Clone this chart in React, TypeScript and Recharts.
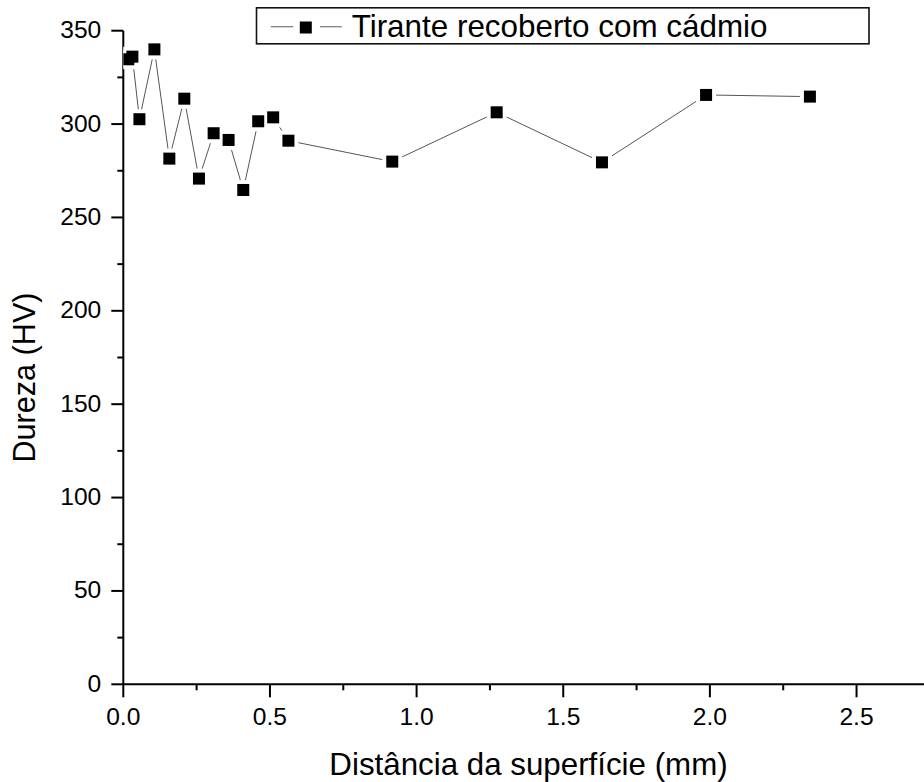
import React from 'react';
import { ComposedChart, Line, Scatter, XAxis, YAxis } from 'recharts';

const distancias = [0.017, 0.031, 0.055, 0.106, 0.157, 0.208, 0.258, 0.308, 0.359, 0.409, 0.46, 0.511, 0.563, 0.917, 1.273, 1.632, 1.987, 2.341];
const durezas = [334.7, 336.1, 302.6, 340.0, 281.5, 313.6, 270.8, 295.1, 291.5, 264.7, 301.5, 303.6, 291.1, 279.9, 306.3, 279.5, 315.6, 314.7];
const yTicks = [0, 25, 50, 75, 100, 125, 150, 175, 200, 225, 250, 275, 300, 325, 350];
const xTicks = [0, 0.25, 0.5, 0.75, 1.0, 1.25, 1.5, 1.75, 2.0, 2.25, 2.5];
const legendLabel = 'Tirante recoberto com cádmio';
const xLabel = 'Distância da superfície (mm)';
const yLabel = 'Dureza (HV)';

const data = distancias.map((x, i) => ({ x, y: durezas[i] }));

const FONT = '"Liberation Sans", Arial, sans-serif';

const YTick = (props: any) => {
  const { x, y, payload } = props;
  const v = payload.value;
  const major = v % 50 === 0;
  return (
    <g>
      <line x1={x - (major ? 12 : 6)} x2={x} y1={y} y2={y} stroke="#000" strokeWidth={2} />
      {major && (
        <text x={x - 22} y={y} dy={7.5} textAnchor="end" fontSize={24.6} fill="#000" fontFamily={FONT}>
          {String(v)}
        </text>
      )}
    </g>
  );
};

const XTick = (props: any) => {
  const { x, y, payload } = props;
  const v = payload.value;
  const major = Math.abs(v * 2 - Math.round(v * 2)) < 1e-6;
  return (
    <g>
      <line x1={x} x2={x} y1={y} y2={y + (major ? 13 : 6)} stroke="#000" strokeWidth={2} />
      {major && (
        <text x={x} y={y + 41} textAnchor="middle" fontSize={24.6} fill="#000" fontFamily={FONT}>
          {v.toFixed(1)}
        </text>
      )}
    </g>
  );
};

const Halo = (p: any) => <rect x={p.cx - 10} y={p.cy - 10} width={20} height={20} fill="#fff" />;
const Marker = (p: any) => <rect x={p.cx - 6} y={p.cy - 6} width={12} height={12} fill="#000" />;

export default function App() {
  return (
    <div style={{ position: 'absolute', left: 0, top: 0, width: 924, height: 782, overflow: 'hidden', background: '#fff' }}>
      <ComposedChart width={924} height={782} data={data} margin={{ top: 30.7, right: 0, bottom: 0, left: 0 }}>
        <XAxis
          dataKey="x"
          type="number"
          domain={[0, 2.73]}
          ticks={xTicks}
          interval={0}
          height={97.7}
          tickSize={0}
          tickMargin={0}
          tickLine={false}
          axisLine={{ stroke: '#000', strokeWidth: 2 }}
          tick={<XTick />}
          allowDataOverflow
          label={{
            content: () => (
              <text x={528.5} y={775} textAnchor="middle" fontSize={31.3} fill="#000" fontFamily={FONT}>
                {xLabel}
              </text>
            ),
          }}
        />
        <YAxis
          type="number"
          domain={[0, 350]}
          ticks={yTicks}
          interval={0}
          width={123.3}
          tickSize={0}
          tickMargin={0}
          tickLine={false}
          axisLine={{ stroke: '#000', strokeWidth: 2 }}
          tick={<YTick />}
          allowDataOverflow
          label={{
            content: () => (
              <text transform="translate(35,377.5) rotate(-90)" textAnchor="middle" fontSize={30.6} fill="#000" fontFamily={FONT}>
                {yLabel}
              </text>
            ),
          }}
        />
        <Line type="linear" dataKey="y" stroke="#555" strokeWidth={1} dot={false} activeDot={false} isAnimationActive={false} />
        <Scatter dataKey="y" shape={Halo} isAnimationActive={false} />
        <Scatter dataKey="y" shape={Marker} isAnimationActive={false} />
      </ComposedChart>
      <svg width={924} height={60} style={{ position: 'absolute', left: 0, top: 0, pointerEvents: 'none' }}>
        <rect x={256.5} y={7.8} width={612.5} height={36} fill="#fff" stroke="#111" strokeWidth={1.6} />
        <line x1={270.7} x2={293.3} y1={26.7} y2={26.7} stroke="#777" strokeWidth={1.2} />
        <line x1={320} x2={341.7} y1={26.7} y2={26.7} stroke="#777" strokeWidth={1.2} />
        <rect x={299.8} y={21.5} width={12} height={12} fill="#000" />
        <text x={351.7} y={37.3} fontSize={31.4} fill="#000" fontFamily={FONT}>
          {legendLabel}
        </text>
      </svg>
    </div>
  );
}
